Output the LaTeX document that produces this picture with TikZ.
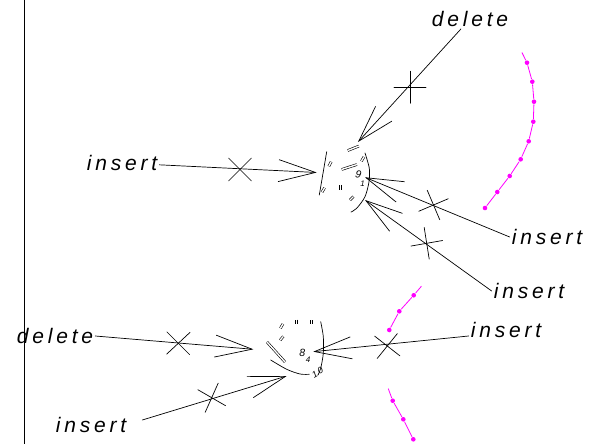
\documentclass[tikz,border=0pt]{standalone}
\usepackage{fontspec}
\usetikzlibrary{arrows.meta}
\newfontfamily\cadfont[LetterSpace=18]{Liberation Sans}

\begin{document}
\begin{tikzpicture}[x=1pt,y=-1pt,line cap=round]
% Colors
\definecolor{tracecolor}{RGB}{255,0,255}
% Styles
\tikzstyle{label text}=[font=\cadfont\itshape\fontsize{21}{21}\selectfont,inner sep=2pt]
\tikzstyle{dial text}=[font=\cadfont\itshape,inner sep=0pt]
\tikzstyle{leader}=[line width=0.7pt,-{Straight Barb[length=37pt,width=22pt]}]
\tikzstyle{dial tick}=[line cap=butt,double,double distance=1.4pt,line width=0.6pt]
\tikzstyle{trace line}=[tracecolor,line width=0.8pt,shorten <=3pt,shorten >=3pt]
% The graphic
\useasboundingbox (0,0) rectangle (590,444);
\draw[line width=0.7pt] (24,0) -- (24,444);
% labels
\node[label text] (delTop) at (470,19) {delete};
\node[label text] (insLeft) at (122,163) {insert};
\node[label text] (insRA) at (547,237) {insert};
\node[label text] (insRB) at (529,291) {insert};
\node[label text] (insRC) at (506,330) {insert};
\node[label text] (delLeft) at (55,336) {delete};
\node[label text] (insBot) at (91,425) {insert};
% arrow tips
\coordinate (tipA) at (316.7,172.5);
\coordinate (tipB) at (358,142);
\coordinate (tipC) at (365,177.3);
\coordinate (tipD) at (365,200);
\coordinate (tipE) at (253.3,349.3);
\coordinate (tipF) at (286.7,376);
\coordinate (tipG) at (313.3,351.7);
\draw[leader] (insLeft) -- (tipA);
\draw[leader] (delTop) -- (tipB);
\draw[leader] (insRA.west) -- (tipC);
\draw[leader] (insRB.west) -- (tipD);
\draw[leader] (delLeft.east) -- (tipE);
\draw[leader] ([xshift=14pt,yshift=5pt]insBot.east) -- (tipF);
\draw[leader] ([yshift=-6pt]insRC.west) -- (tipG);
% crosses
\foreach \cx/\cy/\a/\b in {240/169.5/45/-45, 410/87.3/0/90, 433.5/205/-23/67,
  426.7/243.3/-10/81, 387.3/346/38/-51, 178.3/343.3/45/-43, 211.7/397.7/30/-66}
{
  \draw[line width=0.7pt] (\cx,\cy) ++(\a:-16) -- ++(\a:32);
  \draw[line width=0.7pt] (\cx,\cy) ++(\b:-16) -- ++(\b:32);
}
% dials
\draw[line width=0.7pt] (326.7,151.7) -- (319.3,195);
\draw[line width=0.7pt] plot[smooth] coordinates {(365,153) (369.3,168.3) (369,181.7) (365,196.7) (356.7,208.3) (351,212)};
\draw[line width=0.7pt] plot[smooth] coordinates {(320.7,321.7) (323.3,336.7) (323.3,353.3) (320.7,368.3) (318,375)};
\draw[line width=0.7pt] plot[smooth] coordinates {(270.7,360) (286.7,369.3) (300,374) (309.3,374.3)};
\foreach \px/\py/\a/\l in {330/164/-62/5, 323.3/190/-60/5, 340.7/187.3/90/5, 362.7/159/-60/5,
  351.7/198.3/-45/5, 353.3/148.3/-22/12, 349.3/167/-18/16,
  281.7/326/-60/5, 281.7/338.3/-50/5, 296.7/321.7/90/4, 311.7/322.3/90/4, 276/352/48/27}
  \draw[dial tick] (\px,\py) ++(\a:-\l/2) -- ++(\a:\l);
\node[dial text,font=\cadfont\itshape\fontsize{10.5}{10.5}\selectfont,rotate=-10] (nine) at (358.3,174.3) {9};
\node[dial text,font=\cadfont\itshape\fontsize{8}{8}\selectfont] (one) at (362.7,184) {1};
\node[dial text,font=\cadfont\itshape\fontsize{10.5}{10.5}\selectfont] (eight) at (302.3,352.7) {8};
\node[dial text,font=\cadfont\itshape\fontsize{8}{8}\selectfont] (four) at (308,360) {4};
\node[dial text,font=\cadfont\itshape\fontsize{9}{9}\selectfont,rotate=30] (ten) at (317.5,372.5) {10};
% traces
\foreach \x/\y [remember=\x as \lx (initially 520.7), remember=\y as \ly (initially 50)] in
  {527/62.7, 532.3/81.7, 534/101.7, 533.3/121.7, 528.7/141.3, 520.7/159.3, 509.7/176, 497.3/192, 485/208}
{
  \draw[trace line] (\lx,\ly) -- (\x,\y);
  \fill[tracecolor] (\x,\y) circle (2.3pt);
}
\foreach \x/\y [remember=\x as \lx (initially 423.3), remember=\y as \ly (initially 284)] in
  {413.7/295.3, 399.3/311.3, 389.3/330}
{
  \draw[trace line] (\lx,\ly) -- (\x,\y);
  \fill[tracecolor] (\x,\y) circle (2.3pt);
}
\foreach \x/\y [remember=\x as \lx (initially 387.3), remember=\y as \ly (initially 386)] in
  {392.7/400.7, 403.3/419.3, 413.3/439.3}
{
  \draw[trace line] (\lx,\ly) -- (\x,\y);
  \fill[tracecolor] (\x,\y) circle (2.3pt);
}
\end{tikzpicture}
\end{document}
